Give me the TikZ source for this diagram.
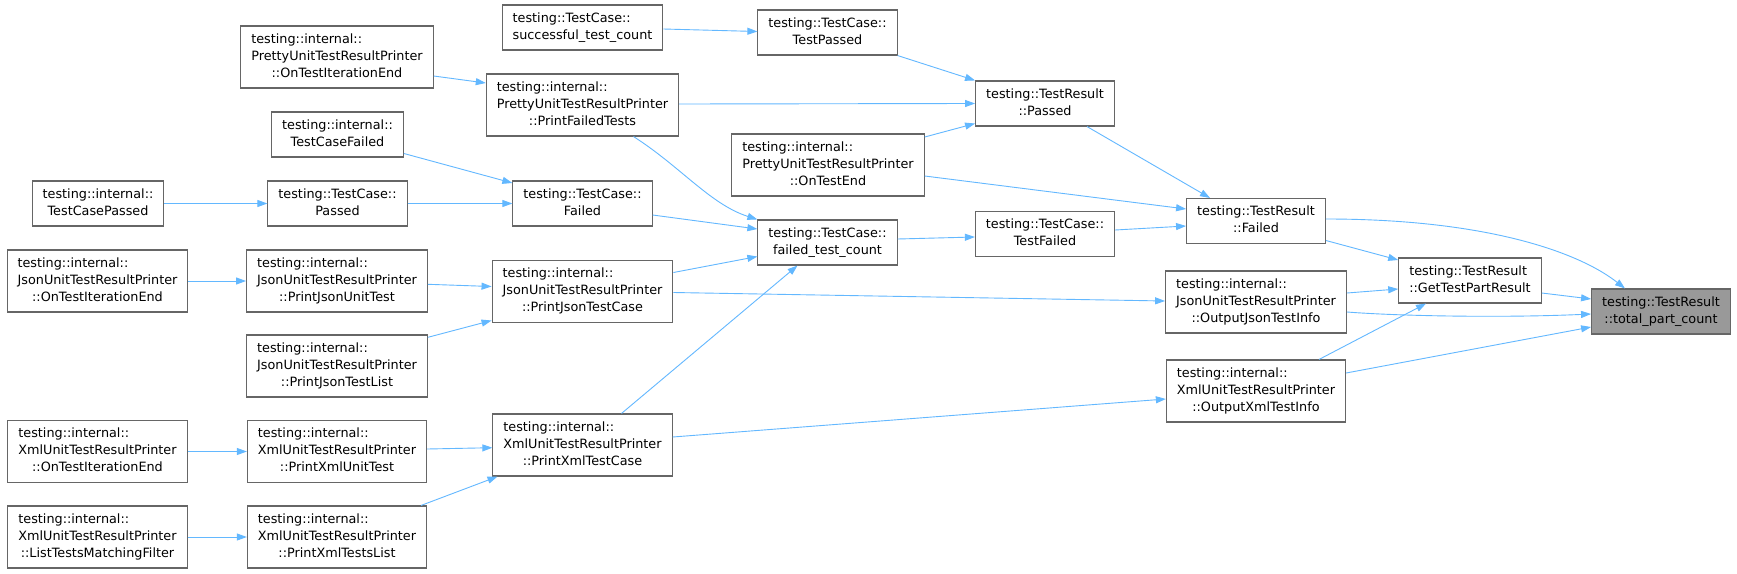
\documentclass[tikz,border=0pt]{standalone}
\usepackage{fontspec}
\setmainfont{DejaVu Sans}
\usepackage{xcolor}
\usepackage{tikz}
\usetikzlibrary{arrows.meta, calc}
\definecolor{edgeBlue}{HTML}{63B8FF}
\definecolor{boxGray}{HTML}{666666}
\definecolor{hiGray}{HTML}{999999}
% dot-like label: first line flush left, the others centred
\newcommand{\fnlabel}[2]{\begin{tabular}{@{}c@{}}\multicolumn{1}{@{}l@{}}{#1}\\#2\end{tabular}}
\begin{document}
\begin{tikzpicture}[x=1pt, y=-1pt,
    every node/.style={font=\fontsize{12.8}{17}\selectfont},
    fn/.style={draw=boxGray, line width=1.1pt, fill=white, inner xsep=10.5pt, inner ysep=5.5pt},
    fnhi/.style={fn, fill=hiGray},
    call/.style={draw=edgeBlue, line width=0.9pt, -{Triangle[length=10pt,width=7pt]}}]
  \useasboundingbox[fill=white] (0,0) rectangle (1737,573);
  % Target
  \node[fnhi] (tpc) at (1661,311.5) {\fnlabel{testing::TestResult}{::total\_part\_count}};
  % Direct callers
  \node[fn] (gtpr) at (1470,280.5) {\fnlabel{testing::TestResult}{::GetTestPartResult}};
  \node[fn] (trf) at (1256,221) {\fnlabel{testing::TestResult}{::Failed}};
  \node[fn] (ojti) at (1256,302) {\fnlabel{testing::internal::}{JsonUnitTestResultPrinter\\::OutputJsonTestInfo}};
  \node[fn] (oxti) at (1256,391) {\fnlabel{testing::internal::}{XmlUnitTestResultPrinter\\::OutputXmlTestInfo}};
  % Third column
  \node[fn] (trp) at (1045,103.5) {\fnlabel{testing::TestResult}{::Passed}};
  \node[fn] (tcf) at (1045,234) {\fnlabel{testing::TestCase::}{TestFailed}};
  % Fourth column
  \node[fn] (tcp) at (827.5,32.5) {\fnlabel{testing::TestCase::}{TestPassed}};
  \node[fn] (pote) at (828,165) {\fnlabel{testing::internal::}{PrettyUnitTestResultPrinter\\::OnTestEnd}};
  \node[fn] (ftc) at (827.5,242.5) {\fnlabel{testing::TestCase::}{failed\_test\_count}};
  % Fifth column
  \node[fn] (stc) at (582.5,27.5) {\fnlabel{testing::TestCase::}{successful\_test\_count}};
  \node[fn] (pft) at (582.5,105) {\fnlabel{testing::internal::}{PrettyUnitTestResultPrinter\\::PrintFailedTests}};
  \node[fn] (tcfa) at (582.5,203.5) {\fnlabel{testing::TestCase::}{Failed}};
  \node[fn] (pjtc) at (582.5,291.5) {\fnlabel{testing::internal::}{JsonUnitTestResultPrinter\\::PrintJsonTestCase}};
  \node[fn] (pxtc) at (582.5,445) {\fnlabel{testing::internal::}{XmlUnitTestResultPrinter\\::PrintXmlTestCase}};
  % Sixth column
  \node[fn] (poie) at (337,57) {\fnlabel{testing::internal::}{PrettyUnitTestResultPrinter\\::OnTestIterationEnd}};
  \node[fn] (itcf) at (337.5,134.5) {\fnlabel{testing::internal::}{TestCaseFailed}};
  \node[fn] (tcpa) at (337.5,203.5) {\fnlabel{testing::TestCase::}{Passed}};
  \node[fn] (pjut) at (337,281) {\fnlabel{testing::internal::}{JsonUnitTestResultPrinter\\::PrintJsonUnitTest}};
  \node[fn] (pjtl) at (337,366) {\fnlabel{testing::internal::}{JsonUnitTestResultPrinter\\::PrintJsonTestList}};
  \node[fn] (pxut) at (337,451.5) {\fnlabel{testing::internal::}{XmlUnitTestResultPrinter\\::PrintXmlUnitTest}};
  \node[fn] (pxtl) at (337,537) {\fnlabel{testing::internal::}{XmlUnitTestResultPrinter\\::PrintXmlTestsList}};
  % Leftmost column
  \node[fn] (itcp) at (98,203.5) {\fnlabel{testing::internal::}{TestCasePassed}};
  \node[fn] (joie) at (97.5,281) {\fnlabel{testing::internal::}{JsonUnitTestResultPrinter\\::OnTestIterationEnd}};
  \node[fn] (xoie) at (97.5,451.5) {\fnlabel{testing::internal::}{XmlUnitTestResultPrinter\\::OnTestIterationEnd}};
  \node[fn] (ltmf) at (97.5,537) {\fnlabel{testing::internal::}{XmlUnitTestResultPrinter\\::ListTestsMatchingFilter}};
  % Calls into total_part_count
  \draw[call] ($(trf.east)+(0,-2)$) .. controls +(153,0) and +(-50,-39) .. ($(tpc.north)+(-36,0)$);
  \draw[call] ($(gtpr.east)+(0,12.5)$) -- ($(tpc.west)+(0,-12.5)$);
  \draw[call] ($(ojti.east)+(0,10)$) .. controls +(51,4) and +(-90,4) .. ($(tpc.west)+(0,2.5)$);
  \draw[call] ($(oxti.east)+(0,-18)$) -- ($(tpc.west)+(0,15.5)$);
  % Calls into GetTestPartResult
  \draw[call] ($(trf.east)+(0,19.5)$) -- ($(gtpr.west)+(0,-20.5)$);
  \draw[call] ($(ojti.east)+(0,-9)$) -- ($(gtpr.west)+(0,8.5)$);
  \draw[call] ($(oxti.north)+(63,0)$) -- ($(gtpr.south)+(-44,0)$);
  % Calls into TestResult::Failed
  \draw[call] ($(trp.south)+(42,0)$) -- ($(trf.north)+(-46,0)$);
  \draw[call] ($(pote.east)+(0,11)$) -- ($(trf.west)+(0,-12)$);
  \draw[call] ($(tcf.east)+(0,-4)$) -- ($(trf.west)+(0,5)$);
  % Calls into TestResult::Passed
  \draw[call] (tcp.south east) -- (trp.north west);
  \draw[call] ($(pft.east)+(0,-1)$) -- (trp.west);
  \draw[call] ($(pote.east)+(0,-28)$) -- ($(trp.west)+(0,20)$);
  % TestFailed, TestPassed
  \draw[call] ($(ftc.east)+(0,-3.5)$) -- ($(tcf.west)+(0,3)$);
  \draw[call] ($(stc.east)+(0,1.5)$) -- ($(tcp.west)+(0,-1)$);
  % Calls into failed_test_count
  \draw[call] ($(pft.south)+(51,0)$) .. controls +(47,30) and +(-47,-15) .. (ftc.north west);
  \draw[call] ($(tcfa.east)+(0,11.5)$) -- ($(ftc.west)+(0,-13.5)$);
  \draw[call] ($(pjtc.east)+(0,-19)$) -- ($(ftc.west)+(0,14)$);
  \draw[call] ($(pxtc.north)+(39,0)$) -- ($(ftc.south)+(-30,0)$);
  % Output*TestInfo callers
  \draw[call] ($(pjtc.east)+(0,1)$) -- ($(ojti.west)+(0,-1)$);
  \draw[call] ($(pxtc.east)+(0,-8)$) -- ($(oxti.west)+(0,8)$);
  % Sixth column to fifth
  \draw[call] ($(poie.east)+(0,19)$) -- ($(pft.west)+(0,-22)$);
  \draw[call] ($(itcf.east)+(0,19)$) -- ($(tcfa.west)+(0,-20.5)$);
  \draw[call] (tcpa.east) -- (tcfa.west);
  \draw[call] ($(pjut.east)+(0,3.3)$) -- ($(pjtc.west)+(0,-5)$);
  \draw[call] ($(pjtl.east)+(0,-28.7)$) -- ($(pjtc.west)+(0,29)$);
  \draw[call] ($(pxut.east)+(0,-2.5)$) -- ($(pxtc.west)+(0,2.7)$);
  \draw[call] ($(pxtl.north)+(84,0)$) -- ($(pxtc.south)+(-85,0)$);
  % Leftmost column to sixth
  \draw[call] (itcp.east) -- (tcpa.west);
  \draw[call] (joie.east) -- (pjut.west);
  \draw[call] (xoie.east) -- (pxut.west);
  \draw[call] (ltmf.east) -- (pxtl.west);
\end{tikzpicture}
\end{document}
